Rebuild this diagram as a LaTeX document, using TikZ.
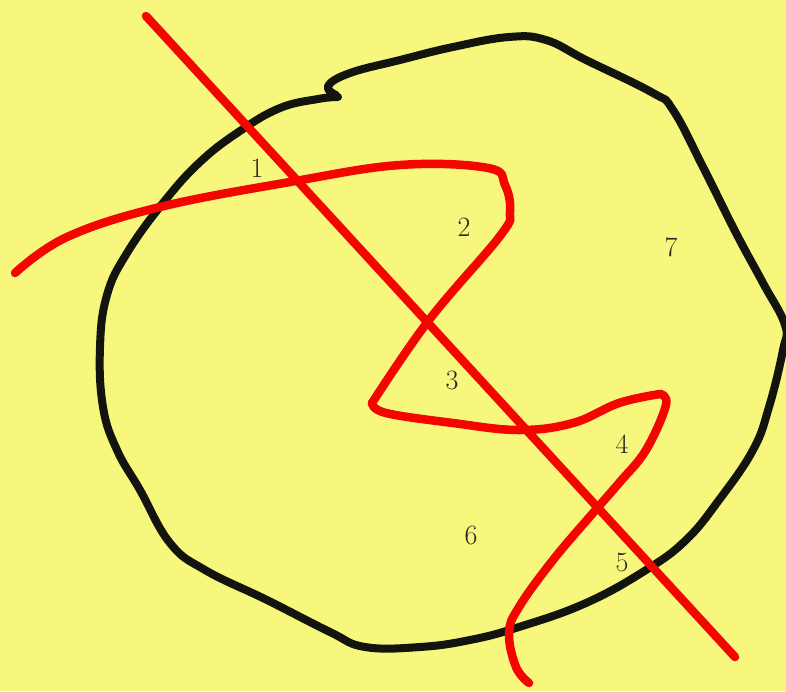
\documentclass[tikz,border=0pt]{standalone}
\definecolor{bg}{RGB}{247,247,125}
\definecolor{pen}{RGB}{20,20,15}
\definecolor{redpen}{RGB}{245,5,0}
\definecolor{lab}{RGB}{40,40,40}
\begin{document}
\begin{tikzpicture}[x=1pt,y=-1pt,
  blackstroke/.style={draw=pen,line width=8pt,line cap=round,line join=round},
  redstroke/.style={draw=redpen,line width=8.5pt,line cap=round,line join=round},
  region/.style={text=lab,font=\fontsize{28}{28}\selectfont,inner sep=0pt}]
\fill[bg] (0,0) rectangle (786,691);
\useasboundingbox (0,0) rectangle (786,691);
% black closed curve
\draw[blackstroke] plot[smooth,tension=0.7] coordinates {
 (338,97) (318,99) (280,108) (240,131) (200,162) (163,203) (127,253) (107,295)
 (100,347) (103,407) (117,450) (140,490) (170,543) (205,570) (267,600) (330,632)
 (365,647) (420,647) (470,640) (519,627) (586,603) (646,570) (686,540) (719,500) (753,450)
 (769,407) (783,350) (785,325) (763,283) (736,233) (703,167) (673,110) (653,93)
 (586,60) (546,40) (509,37) (453,47) (400,60) (350,73) (328,86) (336,95)};
% red wavy curve
\draw[redstroke] plot[smooth,tension=0.65] coordinates {
 (15,273) (67,237) (160,207) (290,182) (400,165) (488,168) (505,185) (510,212)
 (500,236) (429,320) (372,403)};
\draw[redstroke] plot[smooth,tension=0.65] coordinates {
 (372,403) (386,413) (453,423) (519,430) (573,423) (619,403) (660,394)};
\draw[redstroke] plot[smooth,tension=0.65] coordinates {
 (660,394) (666,405) (646,450) (619,483) (593,513) (553,560) (519,607) (509,633)
 (516,667) (529,683)};
% red straight line
\coordinate (ls) at (146,16);
\coordinate (le) at (735,657);
\draw[redstroke] (ls) -- (le);
% region labels
\node[region] (r1) at (257,168) {1};
\node[region] (r2) at (464,227) {2};
\node[region] (r3) at (452,380) {3};
\node[region] (r4) at (622,444) {4};
\node[region] (r5) at (622,562) {5};
\node[region] (r6) at (471,535) {6};
\node[region] (r7) at (671,247) {7};
\end{tikzpicture}
\end{document}
